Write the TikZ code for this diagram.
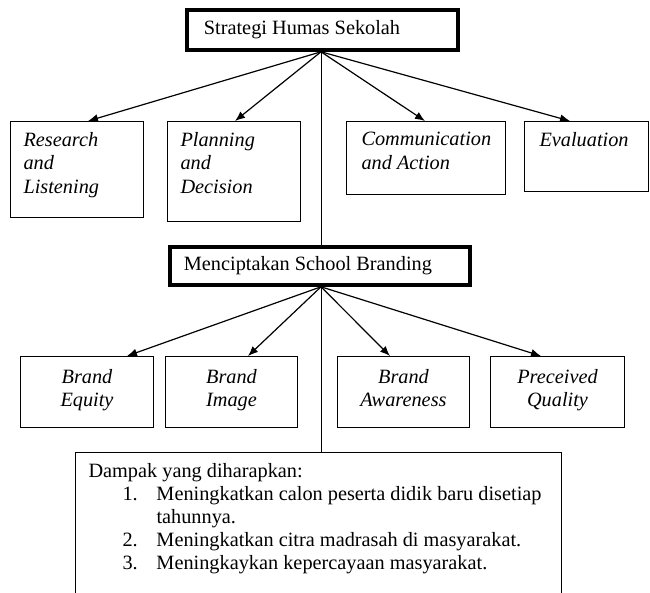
\documentclass[tikz,border=0pt]{standalone}
\usepackage{fontspec}
\setmainfont{Liberation Serif}
\usetikzlibrary{arrows.meta}
\newcommand{\topbox}[3]{\parbox[t][#2][t]{#1}{#3}}
\begin{document}
\begin{tikzpicture}[x=1pt,y=-1pt,
  every node/.style={font=\fontsize{20.3}{23.3}\selectfont},
  headbox/.style={draw, line width=3.8pt, anchor=north west, inner sep=0pt},
  itembox/.style={draw, line width=1pt, anchor=north west, inner xsep=13pt, inner ysep=11pt},
  brandbox/.style={draw, line width=1pt, anchor=north west, inner xsep=6pt, inner ysep=12.5pt},
  arr/.style={line width=1.2pt, -{Latex[length=10pt,width=8pt]}},
  link/.style={line width=1pt}]
\useasboundingbox (0,0) rectangle (650,592);
% head boxes
\node[headbox, minimum width=271pt, minimum height=40pt] (top) at (185,8) {\makebox[271pt][l]{\hspace*{17pt}Strategi Humas Sekolah}};
\node[headbox, minimum width=300pt, minimum height=38pt] (mid) at (168,245) {\makebox[300pt][l]{\hspace*{14pt}Menciptakan School Branding}};
% level 1
\node[itembox] (rl) at (10,121) {\topbox{107pt}{74pt}{\itshape Research\\and\\Listening}};
\node[itembox] (pd) at (167,121) {\topbox{107pt}{78pt}{\itshape Planning\\and\\Decision}};
\node[itembox, inner xsep=15pt] (ca) at (346,121) {\topbox{129pt}{51pt}{\itshape Communication\\and Action}};
\node[itembox, inner xsep=15pt] (ev) at (524,121) {\topbox{94pt}{48pt}{\itshape Evaluation}};
% level 2
\node[brandbox] (be) at (20,356) {\topbox{121pt}{46pt}{\centering\itshape Brand\\Equity}};
\node[brandbox] (bi) at (165,356) {\topbox{120pt}{46pt}{\centering\itshape Brand\\Image}};
\node[brandbox] (ba) at (337,356) {\topbox{120pt}{46pt}{\centering\itshape Brand\\Awareness}};
\node[brandbox] (pq) at (490,356) {\topbox{122pt}{46pt}{\centering\itshape Preceived\\Quality}};
% bottom box
\node[draw, line width=1pt, anchor=north west, inner xsep=13pt, inner ysep=11pt, font=\fontsize{20.3}{23}\selectfont] (dp) at (75,452) {\topbox{460pt}{119pt}{%
\mbox{Dampak yang diharapkan:}\\
\mbox{\hspace*{34pt}\makebox[34pt][l]{1.}Meningkatkan calon peserta didik baru disetiap}\\
\mbox{\hspace*{68pt}tahunnya.}\\
\mbox{\hspace*{34pt}\makebox[34pt][l]{2.}Meningkatkan citra madrasah di masyarakat.}\\
\mbox{\hspace*{34pt}\makebox[34pt][l]{3.}Meningkaykan kepercayaan masyarakat.}}};
% spine
\coordinate (sx) at (321,0);
\draw[link] (top.south -| sx) -- (mid.north -| sx);
\draw[link] (mid.south -| sx) -- (dp.north -| sx);
% arrows from the head box
\coordinate (ra) at (88,0);
\coordinate (pa) at (235,0);
\coordinate (ca2) at (425,0);
\coordinate (ea) at (570,0);
\draw[arr] (top.south -| sx) -- (rl.north -| ra);
\draw[arr] (top.south -| sx) -- (pd.north -| pa);
\draw[arr] (top.south -| sx) -- (ca.north -| ca2);
\draw[arr] (top.south -| sx) -- (ev.north -| ea);
% arrows from the branding box
\coordinate (bea) at (127,0);
\coordinate (bia) at (248,0);
\coordinate (baa) at (390,0);
\coordinate (pqa) at (541,0);
\draw[arr] (mid.south -| sx) -- (be.north -| bea);
\draw[arr] (mid.south -| sx) -- (bi.north -| bia);
\draw[arr] (mid.south -| sx) -- (ba.north -| baa);
\draw[arr] (mid.south -| sx) -- (pq.north -| pqa);
\end{tikzpicture}
\end{document}
